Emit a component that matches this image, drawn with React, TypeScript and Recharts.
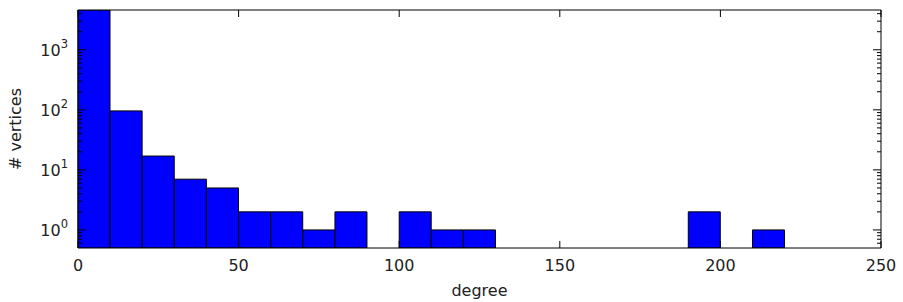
import React from "react";
import { ComposedChart, Bar, XAxis, YAxis } from "recharts";

// histogram of vertex degree, bins of width 10
const binStarts = [0, 10, 20, 30, 40, 50, 60, 70, 80, 90, 100, 110, 120, 130, 140, 150, 160, 170, 180, 190, 200, 210, 220, 230, 240];
const counts: (number | null)[] = [4600, 96, 17, 7, 5, 2, 2, 1, 2, null, 2, 1, 1, null, null, null, null, null, null, 2, null, 1, null, null, null];
const xTicks = [0, 50, 100, 150, 200, 250];
const yMajor = [1, 10, 100, 1000];
const yMinor = [0.6, 0.7, 0.8, 0.9, 2, 3, 4, 5, 6, 7, 8, 9, 20, 30, 40, 50, 60, 70, 80, 90, 200, 300, 400, 500, 600, 700, 800, 900, 2000, 3000, 4000];
const yTicks = [...yMinor, ...yMajor].sort((a, b) => a - b);

const data = binStarts.map((s, i) => ({ bin: `${s}-${s + 10}`, start: s, count: counts[i] }));

const font = "'DejaVu Sans', sans-serif";
const ink = "#222";

const isMajor = (v: number) => Math.abs(Math.log10(v) - Math.round(Math.log10(v))) < 1e-6;

const LeftTick = (props: any) => {
  const { x, y, payload } = props;
  const v = payload.value;
  const major = isMajor(v);
  return (
    <g>
      <line x1={x} x2={x + (major ? 8 : 4)} y1={y} y2={y} stroke="#000" />
      {major && (
        <text x={x - 10} y={y + 6} textAnchor="end" fontFamily={font} fontSize={16} fill={ink}>
          10
          <tspan dy={-8} fontSize={11.5}>{Math.round(Math.log10(v))}</tspan>
        </text>
      )}
    </g>
  );
};

const RightTick = (props: any) => {
  const { x, y, payload } = props;
  const major = isMajor(payload.value);
  return <line x1={x} x2={x - (major ? 8 : 4)} y1={y} y2={y} stroke="#000" />;
};

const BottomTick = (props: any) => {
  const { x, y, payload } = props;
  return (
    <g>
      <line x1={x} x2={x} y1={y} y2={y - 7} stroke="#000" />
      <text x={x} y={y + 23} textAnchor="middle" fontFamily={font} fontSize={16} fill={ink}>
        {payload.value}
      </text>
    </g>
  );
};

const TopTick = (props: any) => {
  const { x, y } = props;
  return <line x1={x} x2={x} y1={y} y2={y + 7} stroke="#000" />;
};

export default function DegreeHistogram() {
  return (
    <div>
      <style>{"body{margin:0;overflow:hidden}"}</style>
      <ComposedChart
        width={903}
        height={302}
        data={data}
        barCategoryGap={0}
        barGap={0}
        margin={{ top: 9, right: 21, left: 0, bottom: 0 }}>
        <XAxis
          xAxisId="deg"
          dataKey="start"
          type="number"
          domain={[0, 250]}
          allowDataOverflow
          ticks={xTicks}
          interval={0}
          height={54}
          tickSize={0}
          tickMargin={0}
          tickLine={false}
          axisLine={{ stroke: "#000" }}
          tick={<BottomTick />}
          label={{
            content: (p: any) => {
              const vb = p.viewBox;
              return (
                <text x={vb.x + vb.width / 2} y={vb.y + 48} textAnchor="middle" fontFamily={font} fontSize={16} fill={ink}>
                  degree
                </text>
              );
            },
          }}
        />
        <XAxis xAxisId="bins" dataKey="bin" hide height={0} />
        <XAxis
          xAxisId="top"
          orientation="top"
          dataKey="start"
          type="number"
          domain={[0, 250]}
          allowDataOverflow
          ticks={xTicks}
          interval={0}
          height={1}
          tickSize={0}
          tickMargin={0}
          tickLine={false}
          axisLine={{ stroke: "#000" }}
          tick={<TopTick />}
        />
        <YAxis
          yAxisId="left"
          scale="log"
          type="number"
          domain={[0.5, 4600]}
          allowDataOverflow
          ticks={yTicks}
          interval={0}
          width={78}
          tickSize={0}
          tickMargin={0}
          tickLine={false}
          axisLine={{ stroke: "#000" }}
          tick={<LeftTick />}
          label={{
            content: (p: any) => {
              const vb = p.viewBox;
              const cx = 21;
              const cy = vb.y + vb.height / 2;
              return (
                <text x={cx} y={cy} transform={`rotate(-90 ${cx} ${cy})`} textAnchor="middle" fontFamily={font} fontSize={16} fill={ink}>
                  # vertices
                </text>
              );
            },
          }}
        />
        <YAxis
          yAxisId="right"
          orientation="right"
          dataKey="count"
          scale="log"
          type="number"
          domain={[0.5, 4600]}
          allowDataOverflow
          ticks={yTicks}
          interval={0}
          width={1}
          tickSize={0}
          tickMargin={0}
          tickLine={false}
          axisLine={{ stroke: "#000" }}
          tick={<RightTick />}
        />
        <Bar
          xAxisId="bins"
          yAxisId="left"
          dataKey="count"
          fill="#0000ff"
          stroke="#000"
          strokeWidth={1}
          isAnimationActive={false}
        />
      </ComposedChart>
    </div>
  );
}
